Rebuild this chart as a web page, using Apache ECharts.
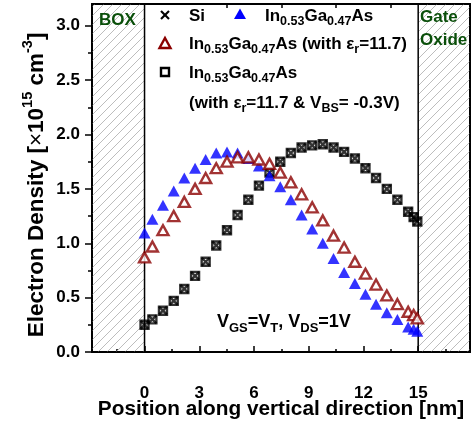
<!DOCTYPE html>
<html><head><meta charset="utf-8">
<script src="https://cdn.jsdelivr.net/npm/echarts@6/dist/echarts.min.js"></script>
<style>html,body{margin:0;padding:0;background:#fff}#c{width:476px;height:422px}</style>
</head><body><div id="c"></div>
<script>
// ---- data (position in nm, density in 1e15 cm^-3) ----
const positions = [0, 0.43, 1.01, 1.6, 2.18, 2.77, 3.35, 3.93, 4.52, 5.1, 5.69, 6.27, 6.85, 7.44, 8.02, 8.61, 9.19, 9.77, 10.36, 10.94, 11.53, 12.11, 12.69, 13.28, 13.86, 14.45, 14.75, 14.95];
const siDensity = [0.25, 0.30, 0.38, 0.47, 0.58, 0.70, 0.83, 0.98, 1.12, 1.26, 1.40, 1.53, 1.65, 1.75, 1.83, 1.88, 1.90, 1.91, 1.88, 1.84, 1.78, 1.69, 1.60, 1.50, 1.40, 1.29, 1.24, 1.20];
const inGaAsDensity = [1.095, 1.22, 1.35, 1.48, 1.60, 1.69, 1.77, 1.83, 1.84, 1.83, 1.78, 1.71, 1.62, 1.52, 1.40, 1.26, 1.13, 1.00, 0.86, 0.73, 0.63, 0.53, 0.44, 0.36, 0.30, 0.23, 0.21, 0.19];
const inGaAsEpsDensity = [0.87, 0.97, 1.12, 1.25, 1.38, 1.50, 1.60, 1.69, 1.75, 1.79, 1.79, 1.77, 1.73, 1.65, 1.56, 1.45, 1.33, 1.21, 1.07, 0.96, 0.83, 0.72, 0.62, 0.52, 0.44, 0.37, 0.34, 0.31];
const inGaAsEpsVbsDensity = [0.25, 0.30, 0.38, 0.47, 0.58, 0.70, 0.83, 0.98, 1.12, 1.26, 1.40, 1.53, 1.65, 1.75, 1.83, 1.88, 1.90, 1.91, 1.88, 1.84, 1.78, 1.69, 1.60, 1.50, 1.40, 1.29, 1.24, 1.20];
const xTickLabels = [0, 3, 6, 9, 12, 15];
const xMinorTicks = [-1.5, 1.5, 4.5, 7.5, 10.5, 13.5, 16.5];
const xTopTicks = [4.5, 7.5, 10.5, 13.5];
const yTickLabels = [0, 0.5, 1.0, 1.5, 2.0, 2.5, 3.0];
const yMinorTicks = [0.25, 0.75, 1.25, 1.75, 2.25, 2.75];
const xMin = -2.88, xMax = 17.84, yMin = 0, yMax = 3.2;
const boxEnd = 0, oxideStart = 15;

function pairs(ys){ return positions.map((x,i)=>[x, ys[i]]); }

function hatch(){
  const c=document.createElement('canvas'); c.width=9; c.height=9;
  const g=c.getContext('2d'); g.strokeStyle='#bdbdbd'; g.lineWidth=1;
  g.beginPath(); g.moveTo(0,9); g.lineTo(9,0); g.moveTo(-1,1); g.lineTo(1,-1); g.moveTo(8,10); g.lineTo(10,8); g.stroke();
  return c;
}

const FONT = 'Liberation Sans, Arial, sans-serif';
const GRID = {left:92, right:6, top:4, bottom:70};
const BLUE = '#0000ff', RED = '#8b0000', GREEN = '#0a4f0a';

function rich(base, sub, color){
  return {
    b:{fontFamily:FONT,fontWeight:'bold',fontSize:base,color:color,verticalAlign:'top',padding:[0,0,0,0]},
    s:{fontFamily:FONT,fontWeight:'bold',fontSize:sub,color:color,verticalAlign:'top',padding:[Math.round(base*0.45),0,0,0]}
  };
}

const chart = echarts.init(document.getElementById('c'), null, {renderer:'canvas'});
const axisLineStyle = {color:'#000', width:2};
chart.setOption({
  animation:false,
  backgroundColor:'#fff',
  grid:[Object.assign({containLabel:false}, GRID), Object.assign({containLabel:false}, GRID)],
  xAxis:[
    {type:'value', gridIndex:0, position:'bottom', min:xMin, max:xMax,
     axisLine:{show:true, onZero:false, lineStyle:axisLineStyle},
     axisTick:{show:true, inside:true, length:6, customValues:xTickLabels, lineStyle:{color:'#000', width:1.5}},
     axisLabel:{show:true, customValues:xTickLabels, margin:33, color:'#000', fontFamily:FONT, fontWeight:'bold', fontSize:17},
     splitLine:{show:false}},
    {type:'value', gridIndex:0, position:'top', min:xMin, max:xMax,
     axisLine:{show:true, onZero:false, lineStyle:axisLineStyle},
     axisTick:{show:true, inside:true, length:4, customValues:xTopTicks, lineStyle:{color:'#000', width:1.5}},
     axisLabel:{show:false}, splitLine:{show:false}},
    {type:'value', gridIndex:1, position:'bottom', min:xMin, max:xMax,
     axisLine:{show:false, onZero:false},
     axisTick:{show:true, inside:true, length:3, customValues:xMinorTicks, lineStyle:{color:'#000', width:1.5}},
     axisLabel:{show:false}, splitLine:{show:false}}
  ],
  yAxis:[
    {type:'value', gridIndex:0, position:'left', min:yMin, max:yMax,
     axisLine:{show:true, onZero:false, lineStyle:axisLineStyle},
     axisTick:{show:true, inside:false, length:7, customValues:yTickLabels, lineStyle:{color:'#000', width:1.5}},
     axisLabel:{show:true, customValues:yTickLabels, margin:12, color:'#000', fontFamily:FONT, fontWeight:'bold', fontSize:17,
       formatter:v=>Number(v).toFixed(1)},
     splitLine:{show:false}},
    {type:'value', gridIndex:0, position:'right', min:yMin, max:yMax,
     axisLine:{show:true, onZero:false, lineStyle:axisLineStyle},
     axisTick:{show:false}, axisLabel:{show:false}, splitLine:{show:false}},
    {type:'value', gridIndex:1, position:'left', min:yMin, max:yMax,
     axisLine:{show:false, onZero:false},
     axisTick:{show:true, inside:false, length:4, customValues:yMinorTicks, lineStyle:{color:'#000', width:1.5}},
     axisLabel:{show:false}, splitLine:{show:false}}
  ],
  series:[
    {type:'scatter', name:'InGaAs eps VBS', xAxisIndex:0, yAxisIndex:0, data:pairs(inGaAsEpsVbsDensity),
     symbol:'rect', symbolSize:8, itemStyle:{color:'rgba(0,0,0,0)', borderColor:'#000', borderWidth:2.4},
     markArea:{silent:true, z:1, itemStyle:{color:{image:hatch(), repeat:'repeat'}, borderColor:'#000', borderWidth:1.5},
       data:[[{xAxis:xMin},{xAxis:boxEnd}],[{xAxis:oxideStart},{xAxis:xMax}]]}},
    {type:'scatter', name:'Si', data:pairs(siDensity),
     symbol:'path://M0,0L10,10M10,0L0,10', symbolSize:8, itemStyle:{color:'#000', borderColor:'#000', borderWidth:2.4}},
    {type:'scatter', name:'InGaAs', data:pairs(inGaAsDensity),
     symbol:'triangle', symbolSize:[12,11], itemStyle:{color:BLUE}},
    {type:'scatter', name:'InGaAs eps', data:pairs(inGaAsEpsDensity),
     symbol:'triangle', symbolSize:[11,10], itemStyle:{color:'#fff', borderColor:RED, borderWidth:2.4}}
  ],
  graphic:[
    // region labels
    {type:'text', x:99, y:20, z:10, style:{text:'BOX', fill:GREEN, font:'bold 17px '+FONT, align:'left', verticalAlign:'middle'}},
    {type:'text', x:420, y:17, z:10, style:{text:'Gate', fill:GREEN, font:'bold 17px '+FONT, align:'left', verticalAlign:'middle'}},
    {type:'text', x:420, y:40, z:10, style:{text:'Oxide', fill:GREEN, font:'bold 17px '+FONT, align:'left', verticalAlign:'middle'}},
    // legend symbols
    {type:'line', z:10, shape:{x1:161,y1:11,x2:169,y2:19}, style:{stroke:'#000', lineWidth:2.2}},
    {type:'line', z:10, shape:{x1:169,y1:11,x2:161,y2:19}, style:{stroke:'#000', lineWidth:2.2}},
    {type:'polygon', z:10, shape:{points:[[240,8.5],[246,19],[234,19]]}, style:{fill:BLUE}},
    {type:'polygon', z:10, shape:{points:[[165,38],[170.5,48],[159.5,48]]}, style:{fill:'#fff', stroke:RED, lineWidth:2.4}},
    {type:'rect', z:10, shape:{x:161,y:68,width:8,height:8}, style:{fill:'#fff', stroke:'#000', lineWidth:2.4}},
    // legend texts
    {type:'text', x:189, y:16, z:10, style:{text:'Si', fill:'#000', font:'bold 17px '+FONT, align:'left', verticalAlign:'middle'}},
    {type:'text', x:265, y:18, z:10, style:{text:'{b|In}{s|0.53}{b|Ga}{s|0.47}{b|As}', rich:rich(17,12.5,BLUE), align:'left', verticalAlign:'middle'}},
    {type:'text', x:189, y:46, z:10, style:{text:'{b|In}{s|0.53}{b|Ga}{s|0.47}{b|As (with ε}{s|r}{b|=11.7)}', rich:rich(17,12.5,RED), align:'left', verticalAlign:'middle'}},
    {type:'text', x:189, y:75, z:10, style:{text:'{b|In}{s|0.53}{b|Ga}{s|0.47}{b|As}', rich:rich(17,12.5,'#000'), align:'left', verticalAlign:'middle'}},
    {type:'text', x:189, y:105, z:10, style:{text:'{b|(with ε}{s|r}{b|=11.7 & V}{s|BS}{b|= -0.3V)}', rich:rich(17,12.5,'#000'), align:'left', verticalAlign:'middle'}},
    // bias annotation
    {type:'text', x:217, y:324, z:10, style:{text:'{b|V}{s|GS}{b|=V}{s|T}{b|, V}{s|DS}{b|=1V}', rich:rich(18,13,'#000'), align:'left', verticalAlign:'middle'}},
    // axis titles
    {type:'text', x:281, y:409, z:10, style:{text:'Position along vertical direction [nm]', fill:'#000', font:'bold 20.8px '+FONT, align:'center', verticalAlign:'middle'}},
    {type:'text', x:34, y:185, rotation:Math.PI/2, z:10, style:{
      text:'{b|Electron Density [}{n|×}{b|10}{p|15}{b| cm}{p|-3}{b|]}',
      rich:{
        b:{fontFamily:FONT,fontWeight:'bold',fontSize:22.5,color:'#000',verticalAlign:'top',padding:[5,0,0,0]},
        n:{fontFamily:FONT,fontWeight:'normal',fontSize:22.5,color:'#000',verticalAlign:'top',padding:[5,0,0,0]},
        p:{fontFamily:FONT,fontWeight:'bold',fontSize:14.5,color:'#000',verticalAlign:'top',padding:[0,0,0,0]}
      }, align:'center', verticalAlign:'middle'}}
  ]
});
</script></body></html>
